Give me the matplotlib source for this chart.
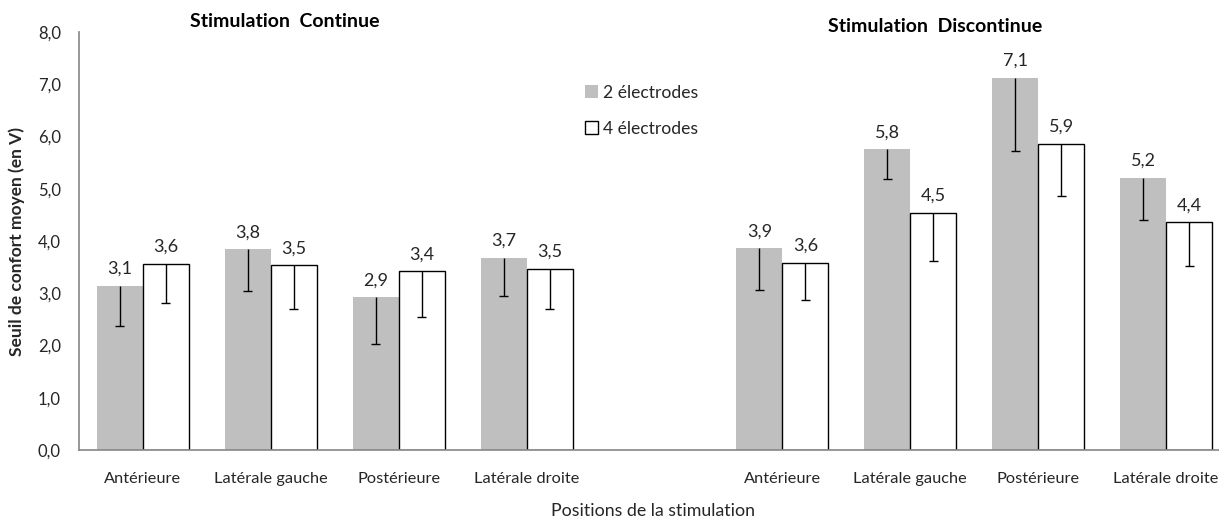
import numpy as np
import matplotlib
matplotlib.use("Agg")
import matplotlib.pyplot as plt
from matplotlib.patches import Patch

plt.rcParams['font.family'] = ['Lato', 'DejaVu Sans']

# Data
positions = ["Antérieure", "Latérale gauche", "Postérieure", "Latérale droite"]
continue_2 = [3.14, 3.84, 2.92, 3.68]
continue_2_err = [0.77, 0.79, 0.90, 0.74]
continue_4 = [3.56, 3.54, 3.42, 3.47]
continue_4_err = [0.75, 0.85, 0.87, 0.78]
discontinue_2 = [3.86, 5.76, 7.12, 5.21]
discontinue_2_err = [0.80, 0.58, 1.40, 0.81]
discontinue_4 = [3.58, 4.54, 5.86, 4.36]
discontinue_4_err = [0.71, 0.92, 0.99, 0.83]

labels = positions + positions
vals_2 = np.array(continue_2 + discontinue_2)
err_2 = np.array(continue_2_err + discontinue_2_err)
vals_4 = np.array(continue_4 + discontinue_4)
err_4 = np.array(continue_4_err + discontinue_4_err)

# one empty slot between the two groups
x = np.array([0, 1, 2, 3, 5, 6, 7, 8])
w = 0.36
cap = 0.035
txt = '#262626'

fig = plt.figure(figsize=(12.19, 5.19), dpi=100)
ax = fig.add_axes([79 / 1219, 1 - 450 / 519, 1 - 79 / 1219, (450 - 32) / 519])

ax.bar(x - w / 2, vals_2, w, color='#BFBFBF', edgecolor='none', label='2 électrodes')
ax.bar(x + w / 2, vals_4, w, color='white', edgecolor='black', linewidth=1.0, label='4 électrodes')

# downward-only error bars, cap only at the lower end
for xs, v, e in [(x - w / 2, vals_2, err_2), (x + w / 2, vals_4, err_4)]:
    ax.vlines(xs, v - e, v, color='black', linewidth=1, zorder=3)
    ax.hlines(v - e, xs - cap, xs + cap, color='black', linewidth=1, zorder=3)

for xs, vals in [(x - w / 2, vals_2), (x + w / 2, vals_4)]:
    for xi, v in zip(xs, vals):
        ax.text(xi, v + 0.17, f"{v:.1f}".replace('.', ','), ha='center', va='bottom',
                fontsize=13, color=txt)

ax.set_ylim(0, 8)
ax.set_xlim(-0.5, (1219 - 142) / 128)
ax.set_yticks(np.arange(0, 8.1, 1))
ax.set_yticklabels([f"{t:.1f}".replace('.', ',') for t in np.arange(0, 8.1, 1)])
ax.set_xticks(x)
ax.set_xticklabels(labels)
ax.tick_params(axis='x', length=0, labelsize=11.8, labelcolor=txt, pad=16)
ax.tick_params(axis='y', length=0, labelsize=12, labelcolor=txt, pad=13)
for s in ['top', 'right']:
    ax.spines[s].set_visible(False)
for s in ['left', 'bottom']:
    ax.spines[s].set_color('#868686')
    ax.spines[s].set_linewidth(1.2)

ax.set_ylabel("Seuil de confort moyen (en V)", fontsize=12.5, fontweight='bold', color=txt)
ax.yaxis.set_label_coords(-0.047, 0.5)

fig.text(285 / 1219, 1 - 22 / 519, "Stimulation  Continue", ha='center', va='center',
         fontsize=14, fontweight='bold', color='black')
fig.text(935 / 1219, 1 - 27 / 519, "Stimulation  Discontinue", ha='center', va='center',
         fontsize=14, fontweight='bold', color='black')
fig.text(653 / 1219, 1 - 511 / 519, "Positions de la stimulation", ha='center', va='center',
         fontsize=12.8, color=txt)

handles = [Patch(facecolor='#BFBFBF', edgecolor='none'),
           Patch(facecolor='white', edgecolor='black', linewidth=1)]
fig.legend(handles, ['2 électrodes', '4 électrodes'], loc='upper left',
           bbox_to_anchor=(569 / 1219, 1 - 69 / 519), frameon=False, fontsize=12.6,
           handlelength=0.75, handleheight=0.75, handletextpad=0.3, labelspacing=1.15,
           labelcolor=txt)

fig.savefig("out.png", dpi=100)
